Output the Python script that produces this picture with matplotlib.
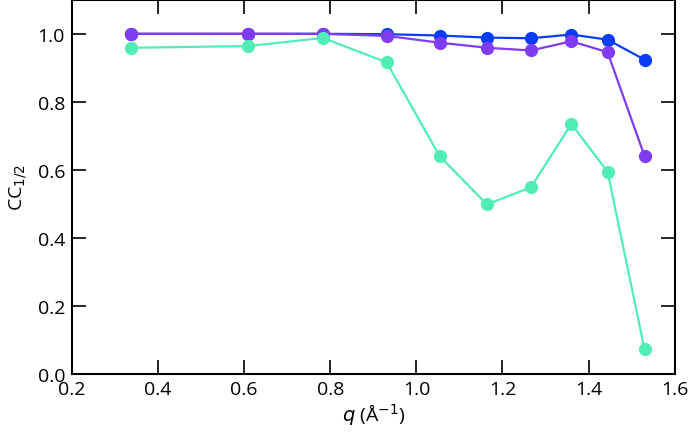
import matplotlib
matplotlib.use("Agg")
import matplotlib.pyplot as plt

# resolution shells (q, 1/A)
q = [0.338, 0.609, 0.783, 0.931, 1.054, 1.164, 1.266, 1.360, 1.444, 1.530]

cc_blue = [1.000, 1.000, 1.000, 0.999, 0.995, 0.989, 0.987, 0.998, 0.983, 0.924]
cc_purple = [1.000, 1.000, 1.000, 0.994, 0.974, 0.959, 0.951, 0.978, 0.946, 0.640]
cc_green = [0.959, 0.964, 0.988, 0.916, 0.640, 0.498, 0.548, 0.735, 0.594, 0.071]

xticks = [0.2, 0.4, 0.6, 0.8, 1.0, 1.2, 1.4, 1.6]
yticks = [0.0, 0.2, 0.4, 0.6, 0.8, 1.0]

plt.rcParams['font.family'] = ['Open Sans', 'DejaVu Sans']

fig = plt.figure(figsize=(6.92, 4.35), dpi=100)
ax = fig.add_axes([0.104, 0.139, 0.871, 0.859])

for vals, col in [(cc_blue, '#0a3cf5'), (cc_purple, '#7f3cf0'), (cc_green, '#50eeb4')]:
    ax.plot(q, vals, '-o', color=col, lw=1.6, ms=8.5, mec=col)

ax.set_xlim(0.2, 1.6)
ax.set_ylim(0.0, 1.1)
ax.set_xticks(xticks)
ax.set_yticks(yticks)
ax.set_xticklabels([f"{t:.1f}" for t in xticks])
ax.set_yticklabels([f"{t:.1f}" for t in yticks])
ax.tick_params(direction='in', length=10, width=1.2, top=True, right=True,
               labelsize=14, pad=5)
for s in ax.spines.values():
    s.set_linewidth(1.5)

ax.set_xlabel(r"$q$ (Å$^{-1}$)", fontsize=14, labelpad=2)
ax.set_ylabel(r"CC$_{1/2}$", fontsize=14, labelpad=6)

fig.savefig("out.png", dpi=100)
